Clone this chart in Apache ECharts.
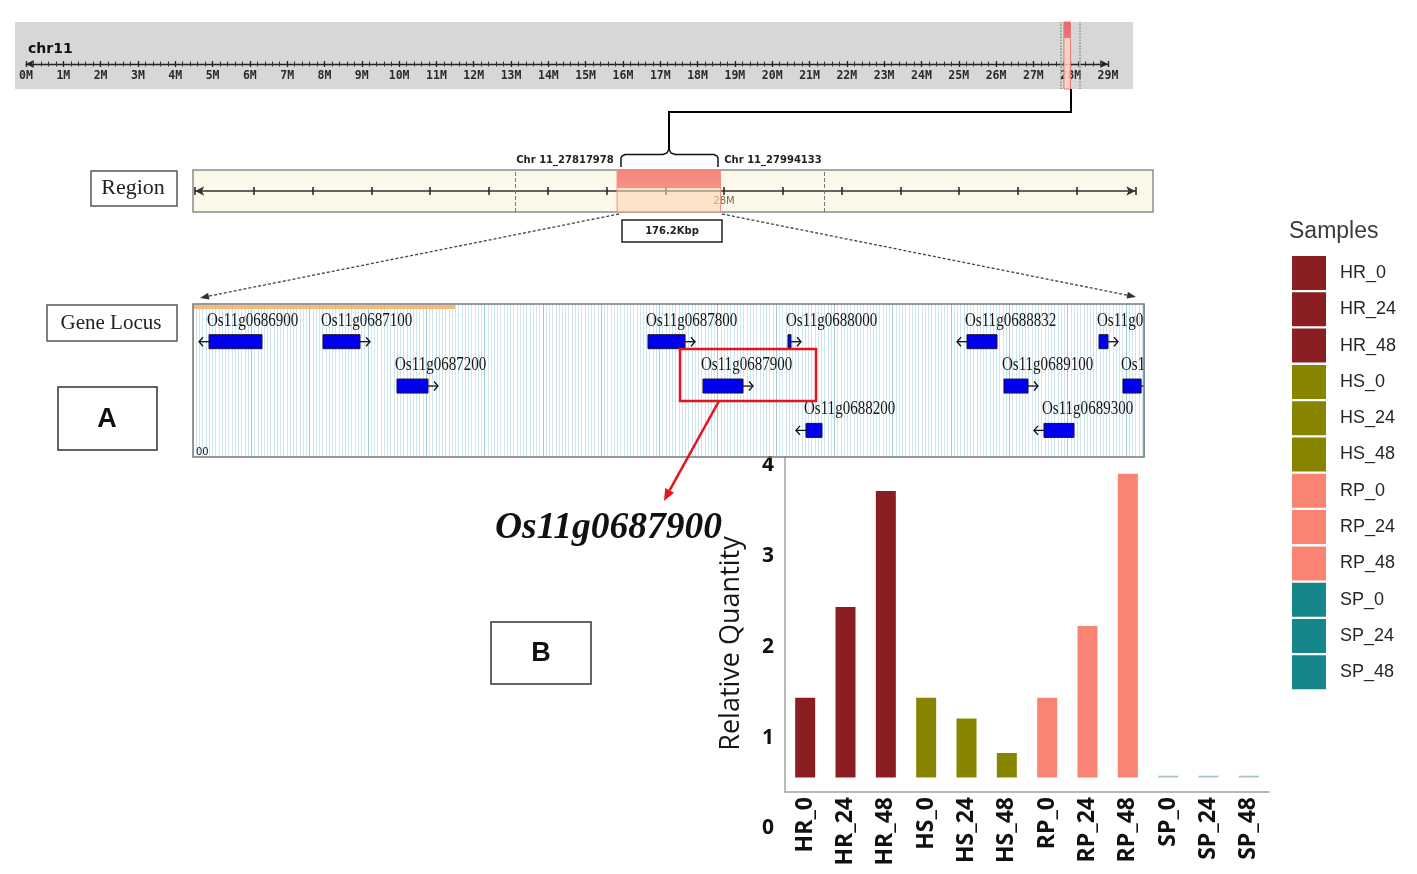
<!DOCTYPE html>
<html><head><meta charset="utf-8">
<script src="https://cdn.jsdelivr.net/npm/echarts@6/dist/echarts.min.js"></script>
<style>html,body{margin:0;padding:0;background:#fff}#c{width:1417px;height:874px}</style>
</head><body><div id="c"></div>
<script>
// ---------------- data ----------------
const categories = ['HR_0','HR_24','HR_48','HS_0','HS_24','HS_48','RP_0','RP_24','RP_48','SP_0','SP_24','SP_48'];
const relQuantity = [1.44, 2.44, 3.72, 1.44, 1.21, 0.83, 1.44, 2.23, 3.91, 0.58, 0.58, 0.58];
const barAxisMin = 0.56;          // value at which the bars of the figure start
const yTickMax = 4;

const chromLengthM = 29;          // ruler 0M .. 29M
const regionStart = 27817978;
const regionEnd = 27994133;
const rulerWindow = [27.74, 28.25];           // dotted window on chromosome ruler (M)
const regionView = [27100000, 28700000];      // region panel axis range
const regionWindow = [27645000, 28170000];    // dotted window on region panel

const geneNames  = ['Os11g0686900','Os11g0687100','Os11g0687200','Os11g0687800','Os11g0687900','Os11g0688000',
                    'Os11g0688200','Os11g0688832','Os11g0689100','Os11g0689300','Os11g0689400','Os11g0689500'];
const geneStart  = [27820942,27842058,27855765,27902258,27912445,27928190,27931524,27961346,27968198,27975607,27985796,27990240];
const geneEnd    = [27830759,27848912,27861507,27909112,27919854,27928746,27934487,27966903,27972644,27981164,27987463,27993600];
const geneRow    = [1,1,2,1,2,1,3,1,2,3,1,2];
const geneStrand = [-1,1,1,1,1,1,-1,-1,1,-1,1,1];

// ---------------- styles ----------------
const groupColor = {HR:'#8b1e22', HS:'#878500', RP:'#f98474', SP:'#15878a'};
const spLineColor = '#a9c4cc';

const chart = echarts.init(document.getElementById('c'), null, {renderer:'canvas'});

function renderGene(params, api){
  const i = params.dataIndex;
  const s = api.coord([api.value(0), api.value(2)]);
  const e = api.coord([api.value(1), api.value(2)]);
  const cy = s[1], x0 = s[0], w = Math.max(e[0]-s[0], 2.5);
  const d = geneStrand[i];
  const ax0 = d > 0 ? x0 + w : x0;
  const ax1 = d > 0 ? x0 + w + 10 : x0 - 10;
  return {type:'group', children:[
    {type:'rect', shape:{x:x0, y:cy-7, width:w, height:14}, style:{fill:'#0000ee', stroke:'#14143a', lineWidth:1}},
    {type:'polyline', shape:{points:[[ax0,cy],[ax1,cy]]}, style:{stroke:'#111', lineWidth:1.3, fill:'none'}},
    {type:'polyline', shape:{points:[[ax1-4*d,cy-4.5],[ax1,cy],[ax1-4*d,cy+4.5]]}, style:{stroke:'#111', lineWidth:1.3, fill:'none'}},
    {type:'text', x:x0-2, y:cy-21, scaleX:0.79, style:{text:geneNames[i], font:'19px "Liberation Serif"', fill:'#151515', align:'left', verticalAlign:'middle'}}
  ]};
}

const barSeries = categories.map((c,i)=>{
  const g = c.split('_')[0];
  return {
    type:'bar', name:c, xAxisIndex:7, yAxisIndex:5, barWidth:20, barGap:'-100%', silent:true,
    itemStyle:{color: g === 'SP' ? spLineColor : groupColor[g]},
    data: categories.map((_,j)=> j===i ? relQuantity[i] : null)
  };
});

const gfx = [];
// panel backgrounds
gfx.push({type:'rect', z:-10, shape:{x:15,y:22,width:1118,height:67}, style:{fill:'#d6d8d5'}});
gfx.push({type:'rect', z:-10, shape:{x:193,y:170,width:960,height:42}, style:{fill:'#fdf9ea', stroke:'#8c8c8c', lineWidth:1.5}});
gfx.push({type:'rect', z:-10, shape:{x:193,y:304,width:951,height:153}, style:{fill:'#ffffff'}});
gfx.push({type:'rect', z:19, shape:{x:194,y:305,width:261,height:4}, style:{fill:'#f4b878'}});
gfx.push({type:'rect', z:20, shape:{x:193,y:304,width:951,height:153}, style:{fill:'none', stroke:'#7a7a7a', lineWidth:1.5}});
// ruler title
gfx.push({type:'text', z:20, x:28, y:49, style:{text:'chr11', font:'bold 14px "DejaVu Sans"', fill:'#111', align:'left', verticalAlign:'middle'}});
// connector and brace
gfx.push({type:'polyline', z:20, shape:{points:[[1071,89],[1071,112],[669,112],[669,150]]}, style:{stroke:'#000', lineWidth:2, fill:'none'}});
gfx.push({type:'polyline', z:20, shape:{points:[[621,167],[621,158],[622,156],[625,154.5],[663,154.5],[667,153],[669,149],[671,153],[675,154.5],[714,154.5],[717,156],[718,158],[718,167]]}, style:{stroke:'#111', lineWidth:1.5, fill:'none'}});
gfx.push({type:'text', z:20, x:565, y:160, style:{text:'Chr 11_27817978', font:'bold 10px "DejaVu Sans"', fill:'#222', align:'center', verticalAlign:'middle'}});
gfx.push({type:'text', z:20, x:773, y:160, style:{text:'Chr 11_27994133', font:'bold 10px "DejaVu Sans"', fill:'#222', align:'center', verticalAlign:'middle'}});
// size box
gfx.push({type:'rect', z:20, shape:{x:622,y:220,width:100,height:22}, style:{fill:'#fff', stroke:'#222', lineWidth:1.5}});
gfx.push({type:'text', z:21, x:672, y:231, style:{text:'176.2Kbp', font:'bold 10px "DejaVu Sans"', fill:'#222', align:'center', verticalAlign:'middle'}});
// left label boxes
gfx.push({type:'rect', z:20, shape:{x:91,y:171,width:86,height:35}, style:{fill:'#fff', stroke:'#555', lineWidth:1.5}});
gfx.push({type:'text', z:21, x:133, y:188, style:{text:'Region', font:'22px "Liberation Serif"', fill:'#222', align:'center', verticalAlign:'middle'}});
gfx.push({type:'rect', z:20, shape:{x:47,y:305,width:130,height:36}, style:{fill:'#fff', stroke:'#555', lineWidth:1.5}});
gfx.push({type:'text', z:21, x:111, y:323, style:{text:'Gene Locus', font:'21px "Liberation Serif"', fill:'#222', align:'center', verticalAlign:'middle'}});
gfx.push({type:'rect', z:20, shape:{x:58,y:387,width:99,height:63}, style:{fill:'#fff', stroke:'#333', lineWidth:1.5}});
gfx.push({type:'text', z:21, x:107, y:420, style:{text:'A', font:'bold 27px "Liberation Sans"', fill:'#111', align:'center', verticalAlign:'middle'}});
gfx.push({type:'rect', z:20, shape:{x:491,y:622,width:100,height:62}, style:{fill:'#fff', stroke:'#333', lineWidth:1.5}});
gfx.push({type:'text', z:21, x:541, y:654, style:{text:'B', font:'bold 27px "Liberation Sans"', fill:'#111', align:'center', verticalAlign:'middle'}});
// dotted zoom lines
gfx.push({type:'line', z:20, shape:{x1:619,y1:214,x2:207,y2:296.5}, style:{stroke:'#444', lineWidth:1.3, lineDash:[3,2]}});
gfx.push({type:'polygon', z:20, shape:{points:[[200,298],[209.5,299.6],[208.1,292.8]]}, style:{fill:'#333'}});
gfx.push({type:'line', z:20, shape:{x1:722,y1:214,x2:1129,y2:295.5}, style:{stroke:'#444', lineWidth:1.3, lineDash:[3,2]}});
gfx.push({type:'polygon', z:20, shape:{points:[[1136,297],[1126.5,298.6],[1127.9,291.8]]}, style:{fill:'#333'}});
// highlight box and arrow
gfx.push({type:'rect', z:22, shape:{x:680,y:349,width:136,height:52}, style:{fill:'none', stroke:'#e5141b', lineWidth:2.5}});
gfx.push({type:'line', z:22, shape:{x1:719,y1:401,x2:669.6,y2:490.4}, style:{stroke:'#e5141b', lineWidth:2.5}});
gfx.push({type:'polygon', z:22, shape:{points:[[664,501],[674,492.7],[665.2,488.1]]}, style:{fill:'#e5141b'}});
gfx.push({type:'text', z:22, x:495, y:528, style:{text:'Os11g0687900', font:'italic bold 37.5px "Liberation Serif"', fill:'#111', align:'left', verticalAlign:'middle'}});
gfx.push({type:'text', z:21, x:196, y:452, style:{text:'00', font:'10px "DejaVu Sans"', fill:'#222', align:'left', verticalAlign:'middle'}});

const hidden = {show:false};
const option = {
  animation:false,
  backgroundColor:'#ffffff',
  title:{text:'Samples', left:1289, top:220, padding:0, textStyle:{fontSize:23, fontWeight:'normal', color:'#3a3a3a', fontFamily:'Liberation Sans'}},
  legend:{
    orient:'vertical', left:1292, top:256, padding:0, itemWidth:34, itemHeight:34, itemGap:2.3, icon:'rect', selectedMode:false,
    textStyle:{fontSize:18, color:'#262626', fontFamily:'Liberation Sans', padding:[0,0,0,9]},
    data: categories.map(c=>({name:c, itemStyle:{color: groupColor[c.split('_')[0]]}}))
  },
  grid:[
    {left:26, top:22, width:1082, height:67, outerBoundsMode:'none'},          // 0 ruler
    {left:195.2, top:170, width:940.1, height:42, outerBoundsMode:'none'},      // 1 region
    {left:193, top:304, width:951, height:153, outerBoundsMode:'none'},         // 2 genes
    {left:785, top:457, width:484, height:335, outerBoundsMode:'none'},         // 3 bar frame
    {left:785, top:465.5, width:484, height:363, outerBoundsMode:'none'},       // 4 y labels
    {left:785, top:465.5, width:484, height:312, outerBoundsMode:'none'}        // 5 bars
  ],
  xAxis:[
    {gridIndex:0, type:'value', min:0, max:chromLengthM, interval:1, position:'bottom', offset:-25,
     axisLine:{onZero:false, lineStyle:{color:'#222', width:1.3}, symbol:['arrow','arrow'], symbolSize:[6,8]},
     axisTick:{length:3, lineStyle:{color:'#222', width:1.3}},
     minorTick:{show:true, splitNumber:5, length:2.5, lineStyle:{color:'#333'}},
     axisLabel:{formatter:v=>v+'M', fontFamily:'DejaVu Sans Mono', fontSize:11.5, fontWeight:'bold', color:'#2a2a2a', margin:6},
     splitLine:hidden},
    {gridIndex:0, type:'value', min:0, max:chromLengthM, interval:1, position:'top', offset:-42,
     axisLine:{onZero:false, show:false}, axisTick:{length:3, lineStyle:{color:'#222', width:1.3}},
     minorTick:{show:true, splitNumber:5, length:2.5, lineStyle:{color:'#333'}},
     axisLabel:hidden, splitLine:hidden},
    {gridIndex:1, type:'value', min:regionView[0], max:regionView[1], interval:100000, position:'bottom', offset:-21,
     axisLine:{onZero:false, lineStyle:{color:'#333', width:1.5}, symbol:['arrow','arrow'], symbolSize:[7,9]},
     axisTick:{length:4, lineStyle:{color:'#222', width:1.5}},
     axisLabel:{formatter:v=> v===28000000 ? '28M' : '', color:'#7b6a48', fontSize:10, margin:5, fontFamily:'DejaVu Sans'},
     splitLine:hidden},
    {gridIndex:1, type:'value', min:regionView[0], max:regionView[1], interval:100000, position:'top', offset:-21,
     axisLine:{onZero:false, show:false}, axisTick:{length:4, lineStyle:{color:'#222', width:1.5}},
     axisLabel:hidden, splitLine:hidden},
    {gridIndex:2, type:'value', min:regionStart, max:regionEnd, interval:10800,
     axisLine:{show:false, onZero:false}, axisTick:hidden, axisLabel:hidden,
     splitLine:{show:true, lineStyle:{color:'#a0cadb', width:1}},
     minorTick:{show:false, splitNumber:18},
     minorSplitLine:{show:true, lineStyle:{color:'#cde5ee', width:1}}},
    {gridIndex:3, type:'category', data:categories, boundaryGap:true,
     axisLine:{onZero:false, lineStyle:{color:'#a3a3a3', width:1.5}},
     axisTick:{alignWithLabel:true, length:4, lineStyle:{color:'#a3a3a3'}},
     axisLabel:{interval:0, rotate:90, margin:5, fontSize:23, fontWeight:'bold', fontFamily:'Open Sans', color:'#111'},
     splitLine:hidden},
    {gridIndex:4, type:'category', data:categories, show:false},
    {gridIndex:5, type:'category', data:categories, show:false}
  ],
  yAxis:[
    {gridIndex:0, type:'value', min:0, max:1, show:false},
    {gridIndex:1, type:'value', min:0, max:1, show:false},
    {gridIndex:2, type:'value', min:0.15, max:3.6, inverse:true, show:false},
    {gridIndex:3, type:'value', min:0, max:1,
     axisLine:{show:true, onZero:false, lineStyle:{color:'#a3a3a3', width:1.5}}, axisTick:hidden, axisLabel:hidden, splitLine:hidden},
    {gridIndex:4, type:'value', min:0, max:yTickMax, interval:1,
     axisLine:hidden, axisTick:hidden, splitLine:hidden,
     axisLabel:{fontSize:21, fontWeight:'bold', fontFamily:'Open Sans', color:'#111', margin:11},
     name:'Relative Quantity', nameLocation:'middle', nameGap:40,
     nameTextStyle:{fontSize:27, fontFamily:'Open Sans', color:'#161616', padding:[0,0,0,7]}},
    {gridIndex:5, type:'value', min:barAxisMin, max:yTickMax, show:false}
  ],
  graphic:{elements:gfx},
  series:[
    {type:'line', xAxisIndex:0, yAxisIndex:0, data:[], silent:true,
     markArea:{silent:true, itemStyle:{color:{type:'linear',x:0,y:0,x2:0,y2:1,colorStops:[
        {offset:0,color:'#e8666a'},{offset:0.25,color:'#ec7876'},{offset:0.25,color:'rgba(248,212,194,0.85)'},{offset:1,color:'rgba(248,212,194,0.85)'}]},
        borderColor:'#e97a76', borderWidth:1},
       data:[[{xAxis:regionStart/1e6},{xAxis:regionEnd/1e6}]]},
     markLine:{silent:true, symbol:['none','none'], label:{show:false}, lineStyle:{type:'dotted', color:'#8a8a8a', width:1.5},
       data:rulerWindow.map(v=>({xAxis:v}))}},
    {type:'line', xAxisIndex:2, yAxisIndex:1, data:[], silent:true,
     markArea:{silent:true, itemStyle:{color:{type:'linear',x:0,y:0,x2:0,y2:1,colorStops:[
        {offset:0,color:'rgba(243,128,116,0.95)'},{offset:0.43,color:'rgba(245,140,126,0.95)'},{offset:0.43,color:'rgba(251,214,178,0.6)'},{offset:1,color:'rgba(251,214,178,0.6)'}]},
        borderColor:'#ef9084', borderWidth:1},
       data:[[{xAxis:regionStart},{xAxis:regionEnd}]]},
     markLine:{silent:true, symbol:['none','none'], label:{show:false}, lineStyle:{type:'dashed', color:'#777', width:1},
       data:regionWindow.map(v=>({xAxis:v}))}},
    {type:'custom', xAxisIndex:4, yAxisIndex:2, clip:true, silent:true, renderItem:renderGene,
     encode:{x:[0,1], y:2},
     data: geneNames.map((n,i)=>[geneStart[i], geneEnd[i], geneRow[i]])},
    ...barSeries
  ]
};
chart.setOption(option);
</script>
</body></html>
